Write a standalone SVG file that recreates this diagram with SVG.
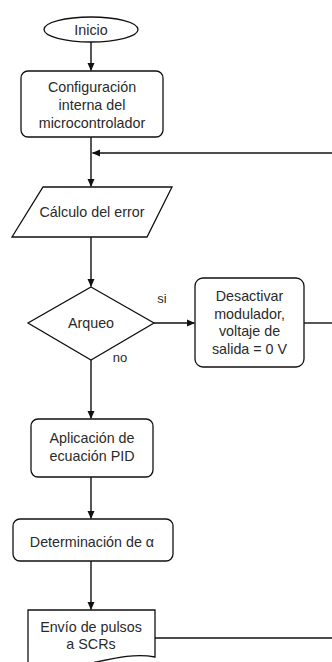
<svg xmlns="http://www.w3.org/2000/svg" width="332" height="662" viewBox="0 0 332 662">
<style>
.s{fill:#fff;stroke:#111;stroke-width:1.3}
.t{font-family:"Liberation Sans",Arial,sans-serif;font-size:14.3px;fill:#2a2a2a;text-anchor:middle}
.l{fill:none;stroke:#111;stroke-width:1.4}
</style>
<defs>
<marker id="a" markerWidth="8" markerHeight="8" refX="7.5" refY="4" orient="auto" markerUnits="userSpaceOnUse"><path d="M0,0.5 L8,4 L0,7.5 Z" fill="#111"/></marker>
</defs>
<rect width="332" height="662" fill="#fff"/>
<g id="connectors">
<line class="l" x1="91" y1="42" x2="91" y2="70.5" marker-end="url(#a)"/>
<line class="l" x1="91" y1="137" x2="91" y2="186.5" marker-end="url(#a)"/>
<line class="l" x1="332" y1="153" x2="92.5" y2="153" marker-end="url(#a)"/>
<line class="l" x1="91" y1="237" x2="91" y2="286.5" marker-end="url(#a)"/>
<line class="l" x1="154" y1="323" x2="194.5" y2="323" marker-end="url(#a)"/>
<line class="l" x1="304" y1="323" x2="332" y2="323"/>
<line class="l" x1="91" y1="360" x2="91" y2="418.5" marker-end="url(#a)"/>
<line class="l" x1="91" y1="477" x2="91" y2="518.5" marker-end="url(#a)"/>
<line class="l" x1="91" y1="561" x2="91" y2="609.5" marker-end="url(#a)"/>
<line class="l" x1="155" y1="638" x2="332" y2="638"/>
</g>
<g id="inicio">
<ellipse class="s" cx="91" cy="29.5" rx="47" ry="12.5"/>
<text class="t" x="91" y="34.5">Inicio</text>
</g>
<g id="config">
<rect class="s" x="21" y="71" width="142" height="66" rx="7"/>
<text class="t" x="92" y="92">Configuración</text>
<text class="t" x="92" y="110">interna del</text>
<text class="t" x="92" y="127.5">microcontrolador</text>
</g>
<g id="error">
<polygon class="s" points="43,187 172,187 147,237 12,237"/>
<text class="t" x="92" y="217">Cálculo del error</text>
</g>
<g id="arqueo">
<polygon class="s" points="91,287 154,323 91,360 28,323"/>
<text class="t" x="91" y="328">Arqueo</text>
<text class="t" x="162" y="303" style="font-size:13px">si</text>
<text class="t" x="120" y="362" style="font-size:13px">no</text>
</g>
<g id="desactivar">
<rect class="s" x="195" y="278" width="109" height="89" rx="8"/>
<text class="t" x="249.5" y="301">Desactivar</text>
<text class="t" x="249.5" y="318.5">modulador,</text>
<text class="t" x="249.5" y="336">voltaje de</text>
<text class="t" x="249.5" y="353.5">salida = 0 V</text>
</g>
<g id="pid">
<rect class="s" x="31" y="419" width="122" height="58" rx="7"/>
<text class="t" x="92" y="443">Aplicación de</text>
<text class="t" x="92" y="461">ecuación PID</text>
</g>
<g id="alfa">
<rect class="s" x="13" y="519" width="160" height="42" rx="7"/>
<text class="t" x="92" y="547">Determinación de α</text>
</g>
<g id="envio">
<path class="s" d="M28,610 H155 V657 C135,653 115,658 92,663 C70,669 45,669 28,665 Z"/>
<text class="t" x="91" y="632">Envío de pulsos</text>
<text class="t" x="91" y="649">a SCRs</text>
</g>
</svg>
